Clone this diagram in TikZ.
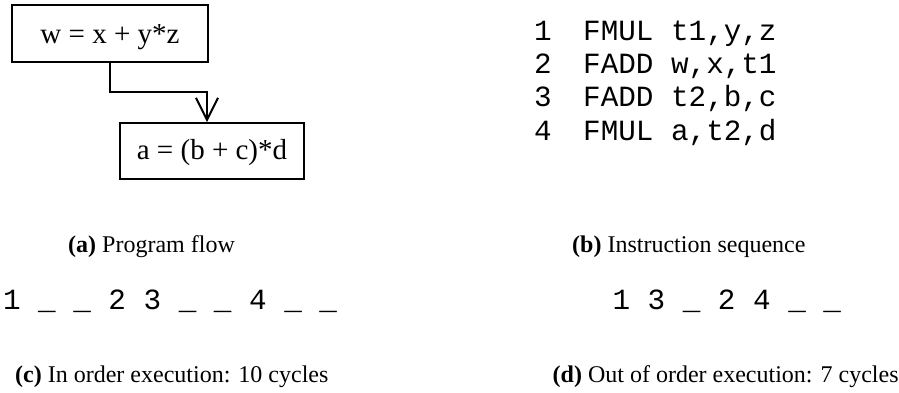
\documentclass[tikz,border=0pt]{standalone}
\usepackage{fontspec}
\setmainfont{Liberation Serif}
\setmonofont{Liberation Mono}
\usetikzlibrary{arrows.meta}
\begin{document}
\begin{tikzpicture}[x=1pt,y=1pt,
  box/.style={draw, line width=2pt, inner sep=0pt, font=\fontsize{29}{34}\selectfont, text height=19pt, text depth=0pt},
  captext/.style={anchor=base west, inner sep=0pt, font=\fontsize{24}{28}\selectfont},
  codetext/.style={anchor=base west, inner sep=0pt, font=\fontsize{29.3}{34}\selectfont\ttfamily},
  flow/.style={line width=2pt, -{Straight Barb[length=22pt,width=22pt]}}]
\useasboundingbox (0,0) rectangle (899,-392);
\node[box, minimum width=196pt, minimum height=57pt] (b1) at (110,-33.5) {w = x + y*z};
\node[box, minimum width=184pt, minimum height=56pt, text height=17pt] (b2) at (212,-151) {a = (b + c)*d};
\draw[flow] (b1.south) -- ++(0,-29) -| ([xshift=-5pt]b2.north);
\node[codetext] (i1) at (534,-40) {\makebox[49pt][l]{1}FMUL t1,y,z};
\node[codetext] (i2) at (534,-73.3) {\makebox[49pt][l]{2}FADD w,x,t1};
\node[codetext] (i3) at (534,-106.6) {\makebox[49pt][l]{3}FADD t2,b,c};
\node[codetext] (i4) at (534,-140) {\makebox[49pt][l]{4}FMUL a,t2,d};
\node[codetext] (sc) at (2.8,-309) {1 \_ \_ 2 3 \_ \_ 4 \_ \_};
\node[codetext] (sd) at (612.3,-309) {1 3 \_ 2 4 \_ \_};
\node[captext] (ca) at (68,-252) {\textbf{(a)} Program flow};
\node[captext] (cb) at (572,-252) {\textbf{(b)} Instruction sequence};
\node[captext] (cc) at (15,-382) {\textbf{(c)} In order execution: 10 cycles};
\node[captext] (cd) at (552.5,-382) {\textbf{(d)} Out of order execution: 7 cycles};
\end{tikzpicture}
\end{document}
